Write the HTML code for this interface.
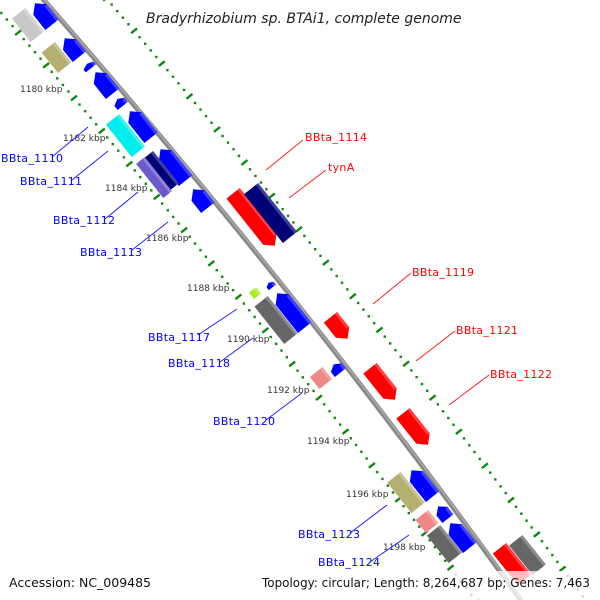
<!DOCTYPE html>
<html><head><meta charset="utf-8">
<style>
html,body{margin:0;padding:0;background:#fff;}
svg{display:block;}
.lb{font-family:"DejaVu Sans","Liberation Sans",sans-serif;font-size:11px;letter-spacing:0.3px;}
.kb{font-family:"DejaVu Sans","Liberation Sans",sans-serif;font-size:9px;fill:#333;}
</style></head>
<body>
<svg id="s" width="600" height="600" xmlns="http://www.w3.org/2000/svg">
<g id="dots"></g>
<path d="M42,-2 Q306,300 522,602" fill="none" stroke="#888" stroke-width="5"/>
<path d="M43,-2 Q307,300 523,602" fill="none" stroke="#aaa" stroke-width="1.5"/>
<g id="genes"></g>
<text x="146" y="23" font-family="DejaVu Sans,Liberation Sans,sans-serif" font-style="italic" font-size="14" fill="#222">Bradyrhizobium sp. BTAi1, complete genome</text>
<g class="kb">
<text x="20" y="92">1180 kbp</text>
<text x="63" y="141">1182 kbp</text>
<text x="105" y="191">1184 kbp</text>
<text x="146" y="241">1186 kbp</text>
<text x="187" y="291">1188 kbp</text>
<text x="227" y="342">1190 kbp</text>
<text x="267" y="393">1192 kbp</text>
<text x="307" y="444">1194 kbp</text>
<text x="346" y="497">1196 kbp</text>
<text x="383" y="550">1198 kbp</text>
</g>
<g stroke="#2222ff" stroke-width="1">
<line x1="52" y1="157" x2="88" y2="127"/>
<line x1="72" y1="180" x2="108" y2="151"/>
<line x1="105" y1="219" x2="138" y2="192"/>
<line x1="132" y1="250" x2="168" y2="222"/>
<line x1="198" y1="335" x2="237" y2="309"/>
<line x1="220" y1="362" x2="253" y2="338"/>
<line x1="266" y1="420" x2="302" y2="393"/>
<line x1="350" y1="533" x2="387" y2="505"/>
<line x1="370" y1="562" x2="409" y2="535"/>
</g>
<g stroke="#ff2222" stroke-width="1">
<line x1="303" y1="140" x2="266" y2="170"/>
<line x1="326" y1="170" x2="289" y2="198"/>
<line x1="411" y1="273" x2="373" y2="304"/>
<line x1="455" y1="331" x2="416" y2="361"/>
<line x1="489" y1="375" x2="449" y2="405"/>
</g>
<g class="lb" fill="#0000ff">
<text x="1" y="162">BBta_1110</text>
<text x="20" y="185">BBta_1111</text>
<text x="53" y="224">BBta_1112</text>
<text x="80" y="256">BBta_1113</text>
<text x="148" y="341">BBta_1117</text>
<text x="168" y="367">BBta_1118</text>
<text x="213" y="425">BBta_1120</text>
<text x="298" y="538">BBta_1123</text>
<text x="318" y="566">BBta_1124</text>
</g>
<g class="lb" fill="#ff0000">
<text x="305" y="141">BBta_1114</text>
<text x="328" y="171">tynA</text>
<text x="412" y="276">BBta_1119</text>
<text x="456" y="334">BBta_1121</text>
<text x="490" y="378">BBta_1122</text>
</g>
<rect x="0" y="571" width="600" height="29" fill="#fff" fill-opacity="0.75"/>
<text x="9" y="587" font-family="DejaVu Sans,Liberation Sans,sans-serif" font-size="12.5" fill="#111" textLength="142" lengthAdjust="spacingAndGlyphs">Accession: NC_009485</text>
<text x="262" y="587" font-family="DejaVu Sans,Liberation Sans,sans-serif" font-size="12.5" fill="#111" textLength="328" lengthAdjust="spacingAndGlyphs">Topology: circular; Length: 8,264,687 bp; Genes: 7,463</text>
</svg>
<script>
var NS="http://www.w3.org/2000/svg";
var ux=0.623,uy=0.783,px=0.783,py=-0.623;
function el(p,n,a){var e=document.createElementNS(NS,n);for(var k in a)e.setAttribute(k,a[k]);p.appendChild(e);return e;}
var dots=document.getElementById("dots");
function qb(p0,c,p2,t){var m=1-t;return [m*m*p0[0]+2*m*t*c[0]+t*t*p2[0], m*m*p0[1]+2*m*t*c[1]+t*t*p2[1]];}
function dcurve(p0,c,p2){
 // sample finely, place marks every 8.6px arc length
 var prev=qb(p0,c,p2,0),acc=0,next=0,i=0;
 for(var k=1;k<=4000;k++){
  var p=qb(p0,c,p2,k/4000);var dx=p[0]-prev[0],dy=p[1]-prev[1];acc+=Math.sqrt(dx*dx+dy*dy);
  if(acc>=next){
   var x=p[0],y=p[1];
   if(i%5==0) el(dots,"line",{x1:x-3,y1:y+2.4,x2:x+3,y2:y-2.4,stroke:"#118811","stroke-width":2.4});
   else el(dots,"rect",{x:x-1.2,y:y-1.2,width:2.4,height:2.4,fill:"#118811"});
   i++;next+=8.6;
  }
  prev=p;
 }
}
dcurve([-10,0],[250,300],[490,620]);
dcurve([106,-2],[362,296],[590,606]);
var g=document.getElementById("genes");
function gene(x1,y1,x2,y2,w,col,dir){
 var cx=(x1+x2)/2,cy=(y1+y2)/2,h=y2-y1;
 var L=Math.max(6,(h-0.623*w)/0.783);
 var a=L/2,b=w/2,ah=Math.min(8,L*0.4);
 var pts=[];
 function P(s,t){pts.push((cx+ux*s+px*t).toFixed(1)+","+(cy+uy*s+py*t).toFixed(1));}
 if(dir==1){P(-a,-b);P(a-ah,-b);P(a,0);P(a-ah,b);P(-a,b);}
 else if(dir==-1){P(-a+ah,-b);P(a,-b);P(a,b);P(-a+ah,b);P(-a,0);}
 else{P(-a,-b);P(a,-b);P(a,b);P(-a,b);}
 el(g,"polygon",{points:pts.join(" "),fill:col});
 var q=[];function Q(s,t){q.push((cx+ux*s+px*t).toFixed(1)+","+(cy+uy*s+py*t).toFixed(1));}
 var s0=dir==-1?-a+ah:-a,s1=dir==1?a-ah:a;
 Q(s0,b);Q(s1,b);Q(s1,b-3);Q(s0,b-3);
 el(g,"polygon",{points:q.join(" "),fill:"#fff","fill-opacity":0.25});
}
var B="#0000ff",N="#000077",R="#ff0000",G="#666666";
gene(30,-2,57,30,17,B,-1);
gene(60,33,84,62,17,B,-1);
gene(82,60,96,72,13,B,-1);
gene(89,67,119,99,17,B,-1);
gene(112,95,128,110,13,B,-1);
gene(122,106,159,143,17,B,-1);
gene(154,144,192,186,17,B,-1);
gene(187,184,214,213,17,B,-1);
gene(12,8,44,42,17,"#c8c8c8",0);
gene(41,42,72,73,17,"#b4b072",0);
gene(105,114,146,157,17,"#00eeee",0);
gene(143,151,178,192,14,N,0);
gene(136,157,172,198,11,"#6a5acd",0);
gene(227,188,281,251,17,R,1);
gene(244,183,297,243,18,N,0);
gene(325,312,353,344,17,R,1);
gene(364,363,401,405,17,R,1);
gene(398,408,433,450,17,R,1);
gene(496,543,528,585,17,R,0);
gene(510,535,545,575,17,G,0);
gene(265,280,276,290,9,B,-1);
gene(248,287,262,299,9,"#aaee22",0);
gene(255,296,297,344,17,G,0);
gene(271,288,311,333,17,B,-1);
gene(310,367,332,389,16,"#ee8888",0);
gene(328,360,346,377,14,B,-1);
gene(389,472,423,513,17,"#b4b072",0);
gene(405,465,439,502,17,B,-1);
gene(416,510,438,533,16,"#ee8888",0);
gene(428,525,461,563,17,G,0);
gene(433,502,453,523,14,B,-1);
gene(444,518,476,553,17,B,-1);
</script>
</body></html>
